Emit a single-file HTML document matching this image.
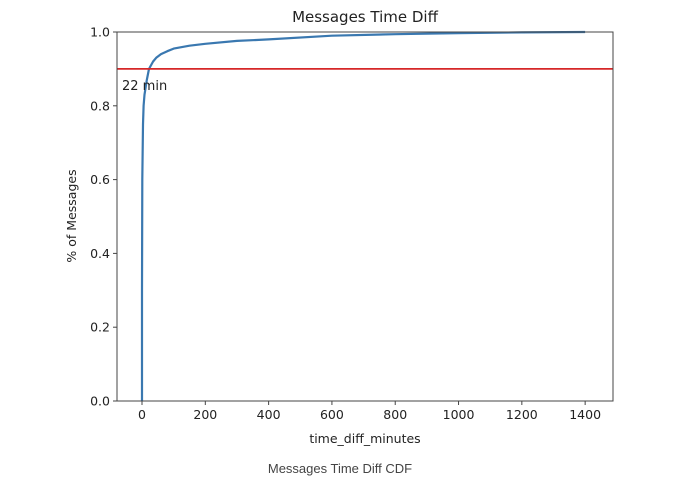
<!DOCTYPE html>
<html><head><meta charset="utf-8"><style>
body{margin:0;background:#fff;font-family:"DejaVu Sans","Liberation Sans",sans-serif;}
svg{display:block}
</style></head><body>
<svg width="680" height="485" id="c">
<text x="365" y="22" font-size="15" text-anchor="middle" fill="#222">Messages Time Diff</text>
<text x="365" y="443" font-size="12.5" text-anchor="middle" fill="#222">time_diff_minutes</text>
<text x="76" y="216" font-size="12.5" text-anchor="middle" fill="#222" transform="rotate(-90 76 216)">% of Messages</text>
<text x="340" y="473" font-size="13" text-anchor="middle" fill="#444" font-family="Liberation Sans, sans-serif">Messages Time Diff CDF</text>
</svg>
<script>
const xTicks=[0,200,400,600,800,1000,1200,1400];
const yTicks=[0,0.2,0.4,0.6,0.8,1.0];
const minutes=[0,0,1,3,5,8,15,22,35,45,60,80,100,150,200,300,400,600,800,1000,1200,1400];
const cdf=[0,0.3,0.6,0.75,0.8,0.83,0.87,0.9,0.92,0.93,0.94,0.948,0.955,0.963,0.968,0.976,0.98,0.99,0.994,0.997,0.999,1.0];
const threshold=0.9;
const thresholdLabel="22 min";
const L=117,R=613,T=32,B=401,XMIN=-79,XMAX=1488;
const sx=v=>L+(v-XMIN)/(XMAX-XMIN)*(R-L);
const sy=v=>B-v*(B-T);
const svg=document.getElementById('c');
const NS='http://www.w3.org/2000/svg';
function mk(t,a){const e=document.createElementNS(NS,t);for(const k in a)e.setAttribute(k,a[k]);svg.appendChild(e);return e;}
xTicks.forEach(v=>{
 const t=mk('line',{x1:sx(v),x2:sx(v),y1:B,y2:B+4,stroke:'#444'});
 
 
 const l=mk('text',{x:sx(v),y:B+18,'font-size':12.5,'text-anchor':'middle',fill:'#222'});l.textContent=v;
 
 
});
yTicks.forEach(v=>{
 const t=mk('line',{x1:L-4,x2:L,y1:sy(v),y2:sy(v),stroke:'#444'});
 
 
 const l=mk('text',{x:L-7,y:sy(v)+4.5,'font-size':12.5,'text-anchor':'end',fill:'#222'});l.textContent=v.toFixed(1);
 
 
});
const d=minutes.map((m,i)=>(i?'L':'M')+sx(m).toFixed(1)+' '+sy(cdf[i]).toFixed(1)).join(' ');
const p=mk('path',{d:d,fill:'none',stroke:'#3a78b0','stroke-width':2.2,'stroke-linejoin':'round'});


const h=mk('line',{x1:L,x2:R,y1:sy(threshold),y2:sy(threshold),stroke:'#d62728','stroke-width':1.8});


const a=mk('text',{x:122,y:sy(threshold)+21,'font-size':13,fill:'#222'});a.textContent=thresholdLabel;


const f=mk('rect',{x:L,y:T,width:R-L,height:B-T,fill:'none',stroke:'#444','stroke-width':1});


</script>
</body></html>
